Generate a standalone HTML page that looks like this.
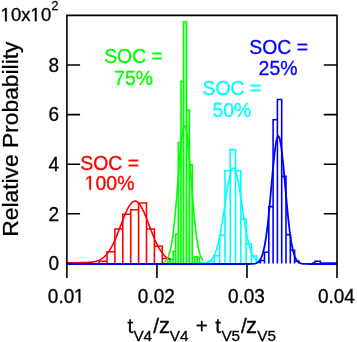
<!DOCTYPE html>
<html><head><meta charset="utf-8"><style>
html,body{margin:0;padding:0;background:#fff;width:357px;height:342px;overflow:hidden}
svg{display:block;font-family:"Liberation Sans",sans-serif}
</style></head><body>
<svg width="357" height="342" viewBox="0 0 357 342">
<defs><filter id="b" filterUnits="userSpaceOnUse" x="0" y="0" width="357" height="342"><feGaussianBlur stdDeviation="0.4"/></filter></defs>
<rect width="357" height="342" fill="#fff"/>
<g filter="url(#b)">
<path d="M99.10,263.40V261.30H107.00V263.40M107.00,263.40V251.70H114.90V263.40M114.90,263.40V229.00H122.80V263.40M122.80,263.40V214.30H130.70V263.40M130.70,263.40V209.70H138.60V263.40M138.60,263.40V203.00H146.50V263.40M146.50,263.40V229.00H154.40V263.40M154.40,263.40V246.30H162.30V263.40M162.30,263.40V258.50H170.20V263.40" fill="none" stroke="#ff0000" stroke-width="1.6"/>
<path d="M66.90,262.70L67.55,262.70L68.20,262.70L68.84,262.70L69.49,262.70L70.14,262.70L70.79,262.70L71.44,262.70L72.09,262.70L72.73,262.70L73.38,262.69L74.03,262.69L74.68,262.69L75.33,262.69L75.97,262.69L76.62,262.69L77.27,262.68L77.92,262.68L78.57,262.68L79.21,262.67L79.86,262.67L80.51,262.66L81.16,262.65L81.81,262.64L82.45,262.63L83.10,262.62L83.75,262.61L84.40,262.59L85.05,262.57L85.70,262.55L86.34,262.53L86.99,262.50L87.64,262.46L88.29,262.42L88.94,262.38L89.58,262.33L90.23,262.27L90.88,262.21L91.53,262.13L92.18,262.05L92.83,261.95L93.47,261.84L94.12,261.72L94.77,261.59L95.42,261.43L96.07,261.26L96.71,261.07L97.36,260.86L98.01,260.63L98.66,260.37L99.31,260.08L99.95,259.77L100.60,259.42L101.25,259.04L101.90,258.63L102.55,258.18L103.19,257.69L103.84,257.15L104.49,256.57L105.14,255.95L105.79,255.28L106.44,254.55L107.08,253.78L107.73,252.95L108.38,252.07L109.03,251.13L109.68,250.14L110.32,249.09L110.97,247.98L111.62,246.82L112.27,245.59L112.92,244.32L113.56,242.99L114.21,241.60L114.86,240.17L115.51,238.69L116.16,237.16L116.81,235.59L117.45,233.99L118.10,232.36L118.75,230.70L119.40,229.01L120.05,227.32L120.69,225.62L121.34,223.91L121.99,222.21L122.64,220.53L123.29,218.86L123.94,217.23L124.58,215.63L125.23,214.08L125.88,212.58L126.53,211.14L127.18,209.78L127.82,208.48L128.47,207.28L129.12,206.16L129.77,205.14L130.42,204.23L131.06,203.42L131.71,202.73L132.36,202.15L133.01,201.70L133.66,201.37L134.31,201.17L134.95,201.10L135.60,201.16L136.25,201.34L136.90,201.65L137.55,202.08L138.19,202.64L138.84,203.31L139.49,204.10L140.14,205.00L140.79,206.01L141.43,207.11L142.08,208.30L142.73,209.58L143.38,210.94L144.03,212.37L144.68,213.86L145.32,215.40L145.97,217.00L146.62,218.63L147.27,220.29L147.92,221.97L148.56,223.66L149.21,225.37L149.86,227.07L150.51,228.77L151.16,230.45L151.80,232.12L152.45,233.76L153.10,235.36L153.75,236.93L154.40,238.47L155.05,239.96L155.69,241.40L156.34,242.79L156.99,244.13L157.64,245.41L158.29,246.64L158.93,247.82L159.58,248.93L160.23,249.99L160.88,250.99L161.53,251.94L162.17,252.83L162.82,253.66L163.47,254.45L164.12,255.18L164.77,255.86L165.41,256.49L166.06,257.07L166.71,257.61L167.36,258.11L168.01,258.57L168.66,258.99L169.30,259.37L169.95,259.72L170.60,260.04" fill="none" stroke="#ff0000" stroke-width="1.6"/>
<path d="M167.80,263.40V261.50H170.50V263.40M170.50,263.40V259.30H173.20V263.40M173.20,263.40V251.30H175.60V263.40M175.60,263.40V234.20H178.30V263.40M178.30,263.40V142.50H181.00V263.40M181.00,263.40V81.30H183.50V263.40M183.50,263.40V21.80H186.50V263.40M186.50,263.40V110.10H189.40V263.40M189.40,263.40V164.90H192.30V263.40M192.30,263.40V257.30H194.80V263.40M194.80,263.40V256.70H197.20V263.40M197.20,263.40V257.50H199.60V263.40" fill="#c4ffc4" stroke="#00ff00" stroke-width="1.6"/>
<path d="M163.50,262.14L163.75,262.04L164.00,261.93L164.25,261.80L164.50,261.66L164.75,261.51L165.00,261.34L165.25,261.16L165.50,260.95L165.75,260.72L166.00,260.47L166.25,260.19L166.50,259.89L166.75,259.56L167.00,259.19L167.25,258.80L167.50,258.36L167.75,257.89L168.00,257.38L168.25,256.82L168.50,256.22L168.75,255.57L169.00,254.87L169.25,254.11L169.50,253.29L169.75,252.42L170.00,251.48L170.25,250.47L170.50,249.40L170.75,248.25L171.00,247.03L171.25,245.73L171.50,244.36L171.75,242.90L172.00,241.36L172.25,239.74L172.50,238.03L172.75,236.23L173.00,234.35L173.25,232.37L173.50,230.31L173.75,228.16L174.00,225.92L174.25,223.59L174.50,221.17L174.75,218.68L175.00,216.10L175.25,213.44L175.50,210.71L175.75,207.91L176.00,205.04L176.25,202.11L176.50,199.13L176.75,196.09L177.00,193.02L177.25,189.91L177.50,186.77L177.75,183.61L178.00,180.44L178.25,177.27L178.50,174.11L178.75,170.96L179.00,167.84L179.25,164.76L179.50,161.72L179.75,158.75L180.00,155.84L180.25,153.01L180.50,150.27L180.75,147.63L181.00,145.11L181.25,142.70L181.50,140.42L181.75,138.27L182.00,136.28L182.25,134.44L182.50,132.76L182.75,131.26L183.00,129.93L183.25,128.78L183.50,127.82L183.75,127.05L184.00,126.47L184.25,126.10L184.50,125.92L184.75,125.94L185.00,126.16L185.25,126.57L185.50,127.19L185.75,128.00L186.00,128.99L186.25,130.18L186.50,131.54L186.75,133.09L187.00,134.79L187.25,136.67L187.50,138.69L187.75,140.86L188.00,143.17L188.25,145.60L188.50,148.15L188.75,150.81L189.00,153.57L189.25,156.42L189.50,159.34L189.75,162.33L190.00,165.37L190.25,168.46L190.50,171.59L190.75,174.74L191.00,177.90L191.25,181.07L191.50,184.24L191.75,187.40L192.00,190.53L192.25,193.63L192.50,196.70L192.75,199.73L193.00,202.70L193.25,205.62L193.50,208.47L193.75,211.26L194.00,213.98L194.25,216.62L194.50,219.18L194.75,221.66L195.00,224.06L195.25,226.37L195.50,228.59L195.75,230.73L196.00,232.77L196.25,234.73L196.50,236.60L196.75,238.38L197.00,240.07L197.25,241.68L197.50,243.20L197.75,244.64L198.00,246.00L198.25,247.28L198.50,248.49L198.75,249.62L199.00,250.68L199.25,251.67L199.50,252.60L199.75,253.46L200.00,254.26L200.25,255.01L200.50,255.70L200.75,256.34L201.00,256.94L201.25,257.49L201.50,257.99L201.75,258.45L202.00,258.88L202.25,259.27L202.50,259.63L202.75,259.95L203.00,260.25L203.25,260.52L203.50,260.77" fill="none" stroke="#00ff00" stroke-width="1.6"/>
<path d="M209.12,263.40V261.50H214.40V263.40M214.40,263.40V255.80H219.68V263.40M219.68,263.40V235.40H224.96V263.40M224.96,263.40V170.70H230.24V263.40M230.24,263.40V149.60H235.52V263.40M235.52,263.40V170.70H240.80V263.40M240.80,263.40V219.00H246.08V263.40M246.08,263.40V243.70H251.36V263.40M251.36,263.40V256.00H256.64V263.40" fill="none" stroke="#00ffff" stroke-width="1.6"/>
<path d="M200.00,263.05L200.39,263.04L200.78,263.03L201.16,263.02L201.55,263.00L201.94,262.98L202.32,262.96L202.71,262.94L203.10,262.91L203.49,262.88L203.88,262.84L204.26,262.79L204.65,262.74L205.04,262.69L205.43,262.62L205.81,262.55L206.20,262.46L206.59,262.36L206.97,262.25L207.36,262.13L207.75,261.99L208.14,261.83L208.53,261.65L208.91,261.45L209.30,261.23L209.69,260.98L210.07,260.70L210.46,260.39L210.85,260.05L211.24,259.67L211.62,259.25L212.01,258.79L212.40,258.28L212.79,257.73L213.18,257.12L213.56,256.46L213.95,255.74L214.34,254.96L214.72,254.11L215.11,253.20L215.50,252.21L215.89,251.15L216.28,250.02L216.66,248.80L217.05,247.51L217.44,246.13L217.82,244.67L218.21,243.12L218.60,241.49L218.99,239.77L219.38,237.97L219.76,236.08L220.15,234.11L220.54,232.06L220.93,229.93L221.31,227.72L221.70,225.45L222.09,223.11L222.47,220.71L222.86,218.26L223.25,215.76L223.64,213.22L224.03,210.66L224.41,208.07L224.80,205.48L225.19,202.89L225.57,200.30L225.96,197.74L226.35,195.21L226.74,192.73L227.12,190.30L227.51,187.95L227.90,185.67L228.29,183.49L228.68,181.41L229.06,179.45L229.45,177.61L229.84,175.91L230.22,174.36L230.61,172.96L231.00,171.73L231.39,170.67L231.78,169.78L232.16,169.08L232.55,168.56L232.94,168.24L233.32,168.10L233.71,168.16L234.10,168.41L234.49,168.86L234.88,169.49L235.26,170.30L235.65,171.30L236.04,172.46L236.43,173.80L236.81,175.29L237.20,176.94L237.59,178.72L237.97,180.63L238.36,182.67L238.75,184.81L239.14,187.05L239.53,189.38L239.91,191.78L240.30,194.24L240.69,196.76L241.07,199.31L241.46,201.88L241.85,204.47L242.24,207.07L242.62,209.66L243.01,212.23L243.40,214.78L243.79,217.29L244.18,219.76L244.56,222.18L244.95,224.55L245.34,226.85L245.72,229.08L246.11,231.24L246.50,233.32L246.89,235.33L247.28,237.25L247.66,239.08L248.05,240.84L248.44,242.50L248.82,244.08L249.21,245.58L249.60,246.99L249.99,248.31L250.38,249.56L250.76,250.72L251.15,251.81L251.54,252.82L251.93,253.76L252.31,254.64L252.70,255.44L253.09,256.19L253.47,256.87L253.86,257.50L254.25,258.07L254.64,258.60L255.03,259.08L255.41,259.51L255.80,259.90L256.19,260.26L256.57,260.58L256.96,260.87L257.35,261.13L257.74,261.37L258.12,261.58L258.51,261.76L258.90,261.93L259.29,262.08L259.68,262.21L260.06,262.32L260.45,262.42L260.84,262.51L261.23,262.59L261.61,262.66L262.00,262.72" fill="none" stroke="#00ffff" stroke-width="1.6"/>
<path d="M260.20,263.40V260.50H264.50V263.40M264.50,263.40V252.30H268.80V263.40M268.80,263.40V206.60H273.10V263.40M273.10,263.40V119.70H277.40V263.40M277.40,263.40V99.50H281.70V263.40M281.70,263.40V176.40H286.00V263.40M286.00,263.40V234.60H290.30V263.40M290.30,263.40V250.30H294.60V263.40M294.60,263.40V261.00H298.90V263.40" fill="none" stroke="#0000ff" stroke-width="1.6"/>
<path d="M312.0,263.09999999999997H315.0V261.2H320.4V263.09999999999997H337.0" fill="none" stroke="#0000ff" stroke-width="1.6"/>
<path d="M66.90,264.00L68.59,264.00L70.28,264.00L71.96,264.00L73.65,264.00L75.34,264.00L77.03,264.00L78.72,264.00L80.41,264.00L82.09,264.00L83.78,264.00L85.47,264.00L87.16,264.00L88.85,264.00L90.53,264.00L92.22,264.00L93.91,264.00L95.60,264.00L97.29,264.00L98.97,264.00L100.66,264.00L102.35,264.00L104.04,264.00L105.73,264.00L107.42,264.00L109.10,264.00L110.79,264.00L112.48,264.00L114.17,264.00L115.86,264.00L117.54,264.00L119.23,264.00L120.92,264.00L122.61,264.00L124.30,264.00L125.98,264.00L127.67,264.00L129.36,264.00L131.05,264.00L132.74,264.00L134.43,264.00L136.11,264.00L137.80,264.00L139.49,264.00L141.18,264.00L142.87,264.00L144.55,264.00L146.24,264.00L147.93,264.00L149.62,264.00L151.31,264.00L152.99,264.00L154.68,264.00L156.37,264.00L158.06,264.00L159.75,264.00L161.44,264.00L163.12,264.00L164.81,264.00L166.50,264.00L168.19,264.00L169.88,264.00L171.56,264.00L173.25,264.00L174.94,264.00L176.63,264.00L178.32,264.00L180.00,264.00L181.69,264.00L183.38,264.00L185.07,264.00L186.76,264.00L188.44,264.00L190.13,264.00L191.82,264.00L193.51,264.00L195.20,264.00L196.89,264.00L198.57,264.00L200.26,264.00L201.95,264.00L203.64,264.00L205.33,264.00L207.01,264.00L208.70,264.00L210.39,264.00L212.08,264.00L213.77,264.00L215.46,264.00L217.14,264.00L218.83,264.00L220.52,264.00L222.21,264.00L223.90,264.00L225.58,264.00L227.27,264.00L228.96,264.00L230.65,264.00L232.34,264.00L234.02,264.00L235.71,264.00L237.40,264.00L239.09,264.00L240.78,264.00L242.47,264.00L244.15,264.00L245.84,264.00L247.53,263.99L249.22,263.98L250.91,263.95L252.59,263.88L254.28,263.70L255.97,263.32L257.66,262.54L259.35,261.05L261.03,258.39L262.72,253.95L264.41,247.06L266.10,237.09L267.79,223.75L269.48,207.29L271.16,188.74L272.85,169.92L274.54,153.24L276.23,141.17L277.92,135.70L279.60,137.77L281.29,147.03L282.98,161.90L284.67,180.07L286.36,199.00L288.04,216.59L289.73,231.43L291.42,242.93L293.11,251.16L294.80,256.63L296.49,260.01L298.17,261.97L299.86,263.03L301.55,263.56L303.24,263.81L304.93,263.92L306.61,263.97L308.30,263.99L309.99,264.00L311.68,264.00L313.37,264.00L315.05,264.00L316.74,264.00L318.43,264.00L320.12,264.00L321.81,264.00L323.50,264.00L325.18,264.00L326.87,264.00L328.56,264.00L330.25,264.00L331.94,264.00L333.62,264.00L335.31,264.00L337.00,264.00" fill="none" stroke="#0000ff" stroke-width="1.8"/>
<path d="M66.9,278.0V15.4H337.0V278.0" fill="none" stroke="#000" stroke-width="1.6" stroke-linejoin="miter"/>
<path d="M156.93,263.4V278.0M246.97,263.4V278.0M66.9,213.80H80.10M337.0,213.80H323.80M66.9,164.20H80.10M337.0,164.20H323.80M66.9,114.60H80.10M337.0,114.60H323.80M66.9,65.00H80.10M337.0,65.00H323.80" fill="none" stroke="#000" stroke-width="1.6"/>
<text transform="translate(59.00,270.10) scale(1.0,1.04)" font-size="19" fill="#000" stroke="#000" stroke-width="0.3" text-anchor="end">0</text>
<text transform="translate(59.00,220.50) scale(1.0,1.04)" font-size="19" fill="#000" stroke="#000" stroke-width="0.3" text-anchor="end">2</text>
<text transform="translate(59.00,170.90) scale(1.0,1.04)" font-size="19" fill="#000" stroke="#000" stroke-width="0.3" text-anchor="end">4</text>
<text transform="translate(59.00,121.30) scale(1.0,1.04)" font-size="19" fill="#000" stroke="#000" stroke-width="0.3" text-anchor="end">6</text>
<text transform="translate(59.00,71.70) scale(1.0,1.04)" font-size="19" fill="#000" stroke="#000" stroke-width="0.3" text-anchor="end">8</text>
<g transform="translate(0.80,21.30) scale(1.0,1.04)" fill="#000" stroke="#000" stroke-width="0.3"><text x="0.00" y="0" font-size="18.5"> 0x 0</text><path transform="translate(0.00,0) scale(0.00903,-0.00903)" d="M475,0L475,1237L157,1010L157,1180L490,1409L656,1409L656,0Z" vector-effect="non-scaling-stroke"/><path transform="translate(29.83,0) scale(0.00903,-0.00903)" d="M475,0L475,1237L157,1010L157,1180L490,1409L656,1409L656,0Z" vector-effect="non-scaling-stroke"/></g>
<text transform="translate(51.60,9.80) scale(1.0,1.04)" font-size="12.5" fill="#000" stroke="#000" stroke-width="0.3">2</text>
<g transform="translate(66.30,302.60) scale(1.0,1.04)" fill="#000" stroke="#000" stroke-width="0.3"><text x="-18.49" y="0" font-size="19">0.0 </text><path transform="translate(7.92,0) scale(0.00928,-0.00928)" d="M475,0L475,1237L157,1010L157,1180L490,1409L656,1409L656,0Z" vector-effect="non-scaling-stroke"/></g>
<text transform="translate(156.33,302.60) scale(1.0,1.04)" font-size="19" fill="#000" stroke="#000" stroke-width="0.3" text-anchor="middle">0.02</text>
<text transform="translate(246.37,302.60) scale(1.0,1.04)" font-size="19" fill="#000" stroke="#000" stroke-width="0.3" text-anchor="middle">0.03</text>
<text transform="translate(336.40,302.60) scale(1.0,1.04)" font-size="19" fill="#000" stroke="#000" stroke-width="0.3" text-anchor="middle">0.04</text>
<text transform="translate(18,236.7) rotate(-90)" font-size="22.8" fill="#000" stroke="#000" stroke-width="0.3">Relative Probability</text>
<text transform="translate(127.40,333.30)" font-size="20.5" fill="#000" stroke="#000" stroke-width="0.3">t</text>
<text transform="translate(133.40,340.50)" font-size="15.3" fill="#000" stroke="#000" stroke-width="0.3">V4</text>
<text transform="translate(153.30,333.30)" font-size="20.5" fill="#000" stroke="#000" stroke-width="0.3">/</text>
<text transform="translate(159.00,333.30)" font-size="22" fill="#000" stroke="#000" stroke-width="0.3">z</text>
<text transform="translate(169.70,340.50)" font-size="15.3" fill="#000" stroke="#000" stroke-width="0.3">V4</text>
<text transform="translate(195.80,333.30)" font-size="20.5" fill="#000" stroke="#000" stroke-width="0.3">+</text>
<text transform="translate(215.20,333.30)" font-size="20.5" fill="#000" stroke="#000" stroke-width="0.3">t</text>
<text transform="translate(221.40,340.50)" font-size="15.3" fill="#000" stroke="#000" stroke-width="0.3">V5</text>
<text transform="translate(241.00,333.30)" font-size="20.5" fill="#000" stroke="#000" stroke-width="0.3">/</text>
<text transform="translate(246.10,333.30)" font-size="22" fill="#000" stroke="#000" stroke-width="0.3">z</text>
<text transform="translate(257.20,340.50)" font-size="15.3" fill="#000" stroke="#000" stroke-width="0.3">V5</text>
<text transform="translate(109.60,169.60) scale(1.0,1.04)" font-size="19.4" fill="#ff0000" stroke="#ff0000" stroke-width="0.3" text-anchor="middle">SOC =</text>
<g transform="translate(109.60,189.80) scale(1.0,1.04)" fill="#ff0000" stroke="#ff0000" stroke-width="0.3"><text x="-24.81" y="0" font-size="19.4"> 00%</text><path transform="translate(-24.81,0) scale(0.00947,-0.00947)" d="M475,0L475,1237L157,1010L157,1180L490,1409L656,1409L656,0Z" vector-effect="non-scaling-stroke"/></g>
<text transform="translate(133.50,63.00) scale(1.0,1.04)" font-size="19.4" fill="#00ff00" stroke="#00ff00" stroke-width="0.3" text-anchor="middle">SOC =</text>
<text transform="translate(133.50,85.00) scale(1.0,1.04)" font-size="19.4" fill="#00ff00" stroke="#00ff00" stroke-width="0.3" text-anchor="middle">75%</text>
<text transform="translate(231.90,95.30) scale(1.0,1.04)" font-size="19.4" fill="#00ffff" stroke="#00ffff" stroke-width="0.3" text-anchor="middle">SOC =</text>
<text transform="translate(231.90,117.10) scale(1.0,1.04)" font-size="19.4" fill="#00ffff" stroke="#00ffff" stroke-width="0.3" text-anchor="middle">50%</text>
<text transform="translate(278.70,54.00) scale(1.0,1.04)" font-size="19.4" fill="#0000ff" stroke="#0000ff" stroke-width="0.3" text-anchor="middle">SOC =</text>
<text transform="translate(278.00,75.40) scale(1.0,1.04)" font-size="19.4" fill="#0000ff" stroke="#0000ff" stroke-width="0.3" text-anchor="middle">25%</text>
</g>
</svg>
</body></html>
